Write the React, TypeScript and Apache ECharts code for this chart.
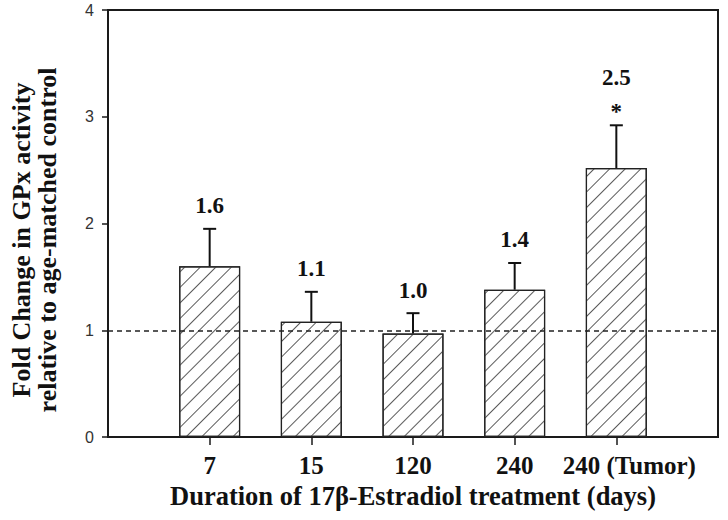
import React, { useEffect, useRef } from "react";
import * as echarts from "echarts";

const categories = ["7", "15", "120", "240", "240 (Tumor)"];
const means = [1.6, 1.08, 0.97, 1.38, 2.52];
const errorTops = [1.95, 1.36, 1.16, 1.63, 2.92];
const valueLabels = ["1.6", "1.1", "1.0", "1.4", "2.5"];
const significance = ["", "", "", "", "*"];
const referenceLevel = 1;
const yMin = 0;
const yMax = 4;
const yInterval = 1;
const xTitle = "Duration of 17β-Estradiol treatment (days)";
const yTitle = "Fold Change in GPx activity\nrelative to age-matched control";

const SERIF = "'Liberation Serif', 'Times New Roman', serif";
const SANS = "'Liberation Sans', Arial, sans-serif";

export default function App() {
  const ref = useRef<HTMLDivElement>(null);
  useEffect(() => {
    if (!ref.current) return;
    const chart = echarts.init(ref.current, null, { renderer: "svg" });
    const padded = ["", ...categories, ""];
    const barData: any[] = ["-", ...means, "-"];
    const errData = means.map((m, i) => [i + 1, m, errorTops[i]]);
    const labelStyle = {
      fontFamily: SERIF,
      fontWeight: "bold",
      fontSize: 25,
      color: "#111",
    };
    chart.setOption({
      animation: false,
      backgroundColor: "#fff",
      grid: {
        left: 108,
        right: 10,
        top: 10,
        bottom: 83,
        show: true,
        borderColor: "#1a1a1a",
        borderWidth: 2,
        backgroundColor: "transparent",
      },
      graphic: [
        {
          type: "text",
          x: 34,
          y: 240,
          rotation: Math.PI / 2,
          style: {
            text: yTitle,
            fontFamily: SERIF,
            fontWeight: "bold",
            fontSize: 26,
            lineHeight: 26,
            fill: "#111",
            align: "center",
            verticalAlign: "middle",
          },
        },
      ],
      xAxis: {
        type: "category",
        data: padded,
        boundaryGap: false,
        axisLine: { lineStyle: { color: "#1a1a1a", width: 2 } },
        axisTick: {
          length: 8,
          lineStyle: { color: "#1a1a1a", width: 1.5 },
          interval: (i: number) => i >= 1 && i <= categories.length,
        },
        axisLabel: {
          interval: 0,
          margin: 16,
          ...labelStyle,
          formatter: (v: string, i: number) =>
            i === categories.length ? `{shift|${v}}` : v,
          rich: {
            shift: { ...labelStyle, padding: [0, 0, 0, 26] },
          },
        },
        splitLine: { show: false },
        name: xTitle,
        nameLocation: "middle",
        nameGap: 44,
        nameTextStyle: {
          fontFamily: SERIF,
          fontWeight: "bold",
          fontSize: 26.5,
          color: "#111",
        },
      },
      yAxis: {
        type: "value",
        min: yMin,
        max: yMax,
        interval: yInterval,
        axisLine: { show: true, lineStyle: { color: "#1a1a1a", width: 2 } },
        axisTick: { show: true, length: 6, lineStyle: { color: "#1a1a1a", width: 1.5 } },
        axisLabel: {
          margin: 14,
          fontFamily: SANS,
          fontSize: 16,
          color: "#333",
        },
        splitLine: { show: false },
      },
      series: [
        {
          type: "bar",
          data: barData,
          barWidth: 61,
          itemStyle: {
            color: "#fff",
            borderColor: "#222",
            borderWidth: 1.2,
            decal: {
              symbol: "rect",
              symbolSize: 1,
              dashArrayX: [1, 0],
              dashArrayY: [1, 10],
              rotation: -Math.PI / 4,
              color: "#5a5a5a",
            },
          },
          markLine: {
            silent: true,
            symbol: "none",
            label: { show: false },
            lineStyle: { color: "#222", type: [5, 4], width: 1.5 },
            data: [{ yAxis: referenceLevel }],
          },
          z: 2,
        },
        {
          type: "custom",
          data: errData,
          z: 3,
          renderItem: (params: any, api: any) => {
            const idx = params.dataIndex;
            const base = api.coord([api.value(0), api.value(1)]);
            const top = api.coord([api.value(0), api.value(2)]);
            const x = base[0];
            const children: any[] = [
              {
                type: "line",
                shape: { x1: x, y1: base[1], x2: x, y2: top[1] },
                style: { stroke: "#111", lineWidth: 2 },
              },
              {
                type: "line",
                shape: { x1: x - 6.5, y1: top[1], x2: x + 6.5, y2: top[1] },
                style: { stroke: "#111", lineWidth: 2 },
              },
            ];
            let labelY = top[1] - 23;
            if (significance[idx]) {
              children.push({
                type: "text",
                style: {
                  x: x,
                  y: top[1] - 14,
                  text: significance[idx],
                  fontFamily: SERIF,
                  fontWeight: "bold",
                  fontSize: 23,
                  fill: "#111",
                  align: "center",
                  verticalAlign: "middle",
                },
              });
              labelY = top[1] - 48;
            }
            children.push({
              type: "text",
              style: {
                x: x,
                y: labelY,
                text: valueLabels[idx],
                fontFamily: SERIF,
                fontWeight: "bold",
                fontSize: 23,
                fill: "#111",
                align: "center",
                verticalAlign: "middle",
              },
            });
            return { type: "group", children };
          },
        },
      ],
    });
    return () => chart.dispose();
  }, []);
  return <div ref={ref} style={{ width: 728, height: 520, position: "absolute", left: 0, top: 0 }} />;
}
